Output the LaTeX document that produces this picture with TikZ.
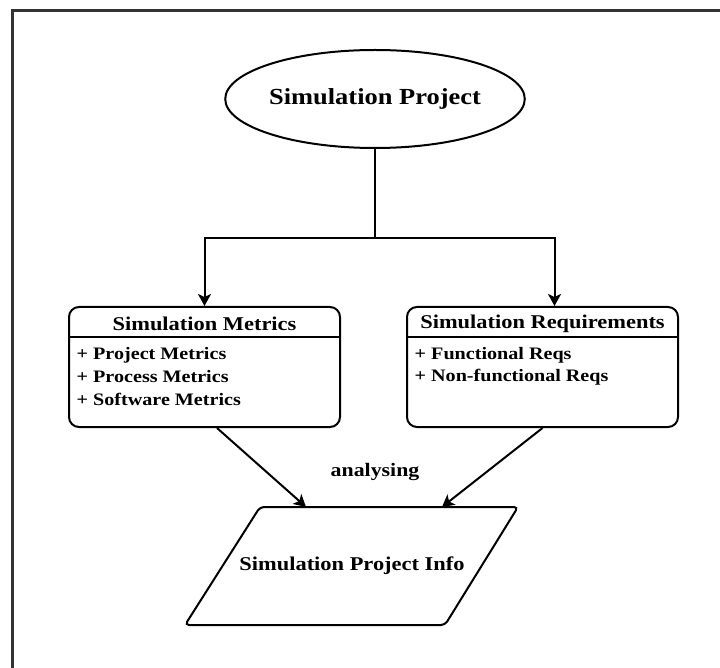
\documentclass[tikz,border=0pt]{standalone}
\usepackage{fontspec}
\setmainfont{Liberation Serif}[FakeStretch=1.15]
\usetikzlibrary{arrows.meta,shapes.geometric}
\tikzset{
  conn/.style={line width=2pt, draw=black},
  arr/.style={conn, -{Stealth[length=12pt,width=13pt,inset=3pt]}},
  umlbox/.style={draw, line width=2pt, rounded corners=10pt, minimum width=271pt, minimum height=120pt, inner sep=0pt},
  titletxt/.style={font=\fontsize{19.5}{22}\selectfont\bfseries, inner sep=0pt},
  itemtxt/.style={font=\fontsize{17.5}{20}\selectfont\bfseries, anchor=west, inner sep=0pt},
}
\begin{document}
\begin{tikzpicture}[x=1pt,y=-1pt]
\useasboundingbox (0,0) rectangle (720,668);
% frame
\draw[line width=2.2pt, draw=black!80] (12.5,668) -- (12.5,10.5) -- (720,10.5);
% top ellipse
\node[ellipse, draw, line width=2pt, minimum width=270pt, minimum height=98pt, inner sep=0pt,
      font=\fontsize{23}{26}\selectfont\bfseries] (proj) at (375,99) {Simulation Project};
% boxes
\node[umlbox] (metrics) at (204.5,367) {};
\node[umlbox] (req) at (542.5,367) {};
\path (metrics.north west) ++(0,31) coordinate (mdl) (metrics.north east) ++(0,31) coordinate (mdr);
\path (req.north west) ++(0,31) coordinate (rdl) (req.north east) ++(0,31) coordinate (rdr);
\draw[line width=2pt] (mdl) -- (mdr);
\draw[line width=2pt] (rdl) -- (rdr);
\node[titletxt] (mt) at (204.5,323.5) {Simulation Metrics};
\node[titletxt] (rt) at (542.5,323.5) {Simulation Requirements};
\node[itemtxt] (m1) at (76.5,355) {+ Project Metrics};
\node[itemtxt] (m2) at (76.5,377) {+ Process Metrics};
\node[itemtxt] (m3) at (76.5,399) {+ Software Metrics};
\node[itemtxt] (r1) at (414.5,355) {+ Functional Reqs};
\node[itemtxt] (r2) at (414.5,377) {+ Non-functional Reqs};
% split connectors
\coordinate (split) at (375,238);
\draw[conn] (proj.south) -- (split);
\draw[arr] (split) -| (metrics.north);
\draw[arr] (split) -| ([xshift=12pt]req.north);
% parallelogram
\coordinate (pTL) at (260,507);
\coordinate (pTR) at (518,507);
\coordinate (pBR) at (445,625);
\coordinate (pBL) at (185,625);
\draw[line width=2pt, rounded corners=4pt] (pTL) -- (pTR) -- (pBR) -- (pBL) -- cycle;
\node[font=\fontsize{19.5}{22}\selectfont\bfseries] (info) at (352,566) {Simulation Project Info};
\coordinate (inL) at (306,507);
\coordinate (inR) at (442,507);
\draw[arr] ([xshift=12.5pt]metrics.south) -- (inL);
\draw[arr] (req.south) -- (inR);
\node[font=\fontsize{19}{22}\selectfont\bfseries] (lbl) at (375,472) {analysing};
\end{tikzpicture}
\end{document}
